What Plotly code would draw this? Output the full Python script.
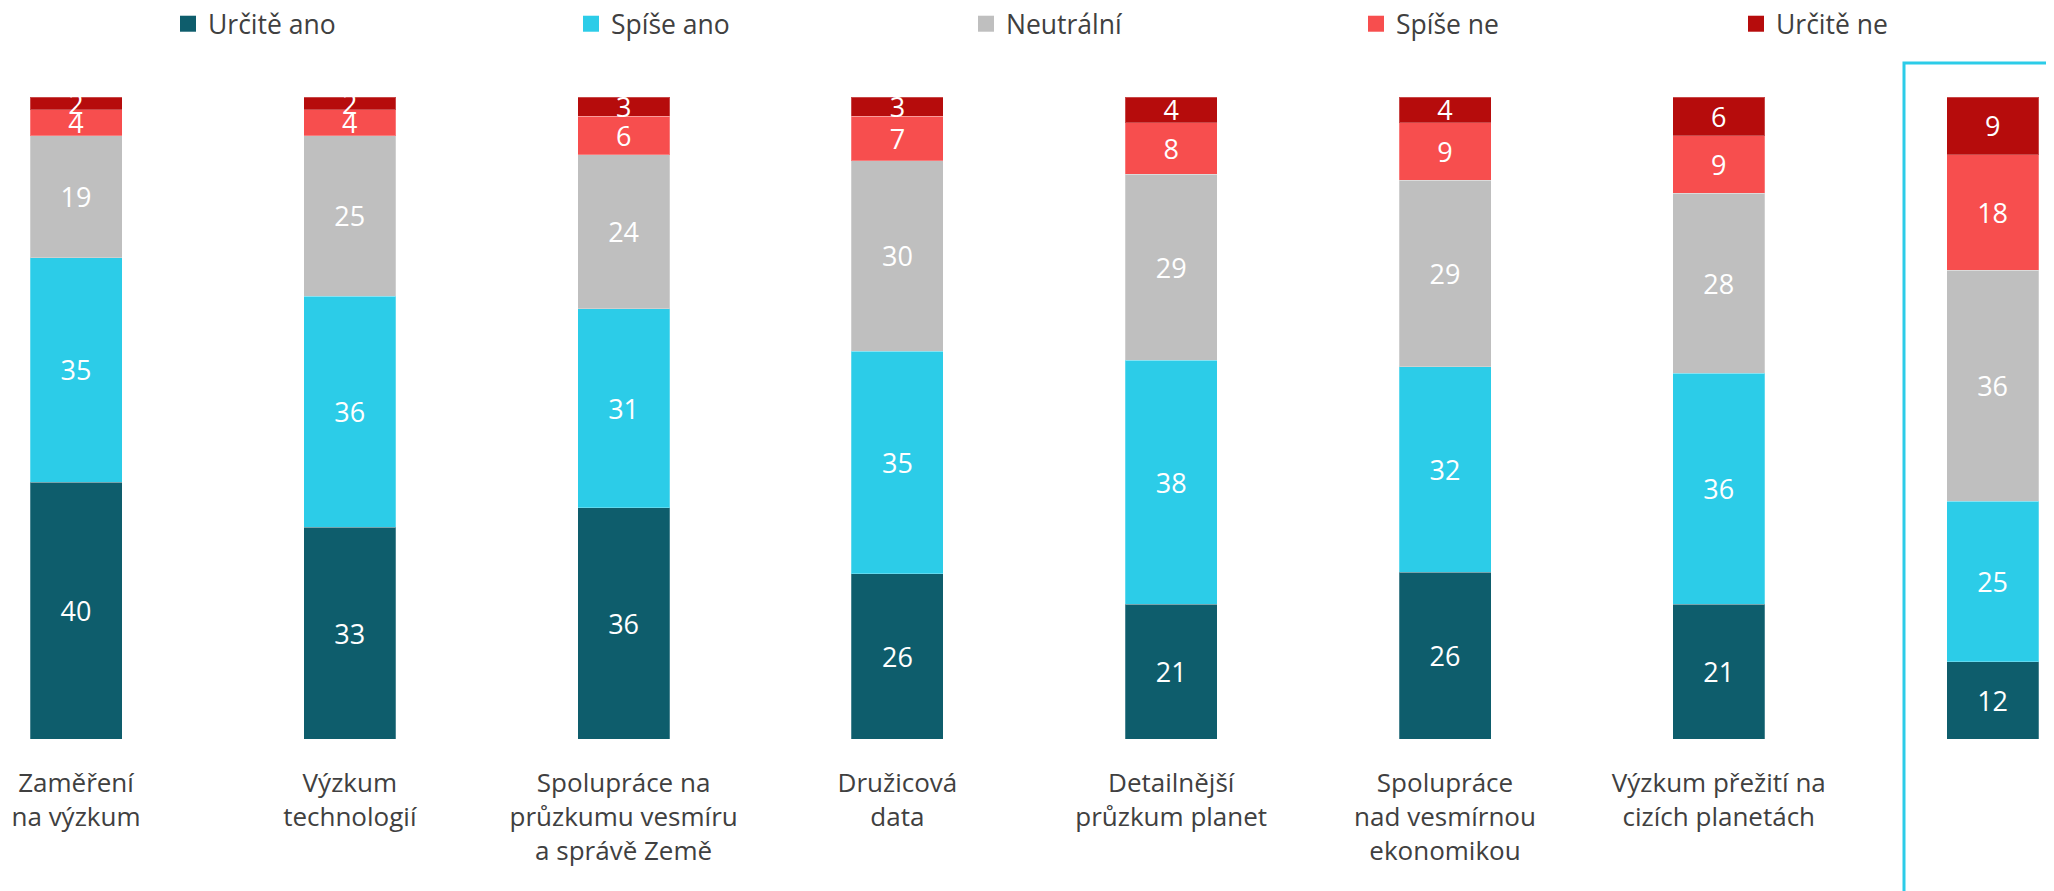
import plotly.graph_objects as go

# ---- data ----
categories = [
    "Zaměření<br>na výzkum",
    "Výzkum<br>technologií",
    "Spolupráce na<br>průzkumu vesmíru<br>a správě Země",
    "Družicová<br>data",
    "Detailnější<br>průzkum planet",
    "Spolupráce<br>nad vesmírnou<br>ekonomikou",
    "Výzkum přežití na<br>cizích planetách",
    "Obchodní<br>příležitosti<br>ve vesmíru",
]
series_names = ["Určitě ano", "Spíše ano", "Neutrální", "Spíše ne", "Určitě ne"]
urcite_ano = [40, 33, 36, 26, 21, 26, 21, 12]
spise_ano = [35, 36, 31, 35, 38, 32, 36, 25]
neutralni = [19, 25, 24, 30, 29, 29, 28, 36]
spise_ne = [4, 4, 6, 7, 8, 9, 9, 18]
urcite_ne = [2, 2, 3, 3, 4, 4, 6, 9]

# ---- styles ----
colors = ["#0E5D6C", "#2CCCE8", "#BFBFBF", "#F74E4E", "#B60C0C"]
FONT = "Open Sans"
OFF = 8  # page body margin
W, H = 2054 - OFF, 891 - OFF
BAR_TOP, BAR_BOTTOM = 97 - OFF, 739 - OFF
X0_PX, STEP_PX = 76 - OFF, 273.8

series = [urcite_ano, spise_ano, neutralni, spise_ne, urcite_ne]
xs = list(range(len(categories)))

fig = go.Figure()
for name, vals, col in zip(series_names, series, colors):
    fig.add_trace(go.Bar(
        x=xs, y=vals, name=name, marker_color=col,
        marker_line=dict(width=1, color="rgba(255,255,255,0.25)"),
        text=[str(v) for v in vals], textposition="inside", textangle=0,
        insidetextanchor="middle", constraintext="none",
        textfont=dict(color="white", size=27, family=FONT),
        showlegend=False, hoverinfo="skip",
    ))

# legend entries (one legend per item for exact placement)
legend_left_px = [183, 586, 981, 1371, 1751]
legend_keys = ["legend", "legend2", "legend3", "legend4", "legend5"]
for name, col, key in zip(series_names, colors, legend_keys):
    fig.add_trace(go.Scatter(
        x=[None], y=[None], mode="markers", name=name,
        marker=dict(symbol="square", size=16, color=col),
        legend=key, showlegend=True,
    ))

legend_layouts = {}
for key, px in zip(legend_keys, legend_left_px):
    legend_layouts[key] = dict(
        x=(px - OFF - 15) / W, xref="container", xanchor="left",
        y=1 - (24 - OFF) / H, yref="container", yanchor="middle",
        orientation="h", bgcolor="rgba(0,0,0,0)",
        font=dict(size=26.5, family=FONT, color="#404040"),
    )

x_lo = -X0_PX / STEP_PX
x_hi = (W - X0_PX) / STEP_PX

fig.update_layout(
    width=W, height=H,
    margin=dict(l=0, r=0, t=BAR_TOP, b=H - BAR_BOTTOM),
    barmode="stack", barnorm="percent", bargap=0.664,
    plot_bgcolor="white", paper_bgcolor="white",
    font=dict(family=FONT, color="#404040"),
    xaxis=dict(range=[x_lo, x_hi], tickvals=xs, ticktext=categories,
               showgrid=False, zeroline=False, showline=False, ticks="",
               tickfont=dict(size=26, family=FONT, color="#404040"),
               ticklabelstandoff=26),
    yaxis=dict(range=[0, 100], visible=False),
    shapes=[dict(type="rect", xref="paper", yref="paper",
                 x0=(1904 - OFF) / W, x1=1.05,
                 y0=-0.5, y1=(BAR_BOTTOM - (63 - OFF)) / (BAR_BOTTOM - BAR_TOP),
                 line=dict(color="#2CCCE8", width=3), fillcolor="rgba(0,0,0,0)")],
    **legend_layouts,
)

fig.write_html("out.html")
